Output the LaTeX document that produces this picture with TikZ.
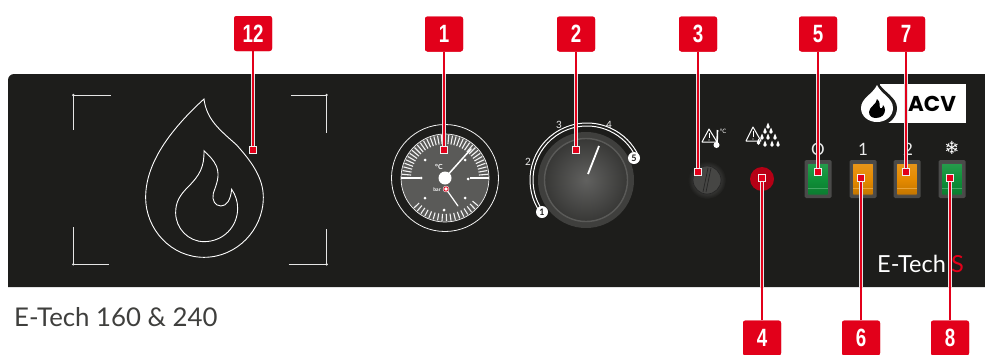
\documentclass[tikz,border=0pt]{standalone}
\usepackage{fontspec}
\setmainfont{Lato}
\newfontfamily\badgefont{Liberation Sans}[Scale=1]
\newfontfamily\symfont{DejaVu Sans}
\newfontfamily\logofont{Poppins}
\definecolor{panel}{HTML}{1D1D1B}
\definecolor{acvred}{HTML}{E2001A}
\definecolor{dial}{HTML}{5A5A58}
\definecolor{swgreen}{HTML}{0E9038}
\definecolor{sworange}{HTML}{E58A00}
\tikzset{
  x=1pt,y=-1pt,
  badge/.style={fill=acvred,rounded corners=2.5pt,minimum width=38pt,minimum height=35pt,inner sep=0,text=white,font=\badgefont\fontsize{25}{25}\selectfont\bfseries},
  marker/.style={fill=acvred,draw=white!88!gray,line width=1.2pt,minimum size=7.5pt,inner sep=0},
  halo/.style={draw=white!80!gray,line width=3.6pt},
  leader/.style={draw=acvred,line width=1.5pt},
  thinw/.style={draw=white,line width=.9pt},
  bracketl/.style={draw=white!80!gray,line width=.8pt},
  swbezel/.style={fill=white!20!panel,rounded corners=1.5pt,minimum width=27pt,minimum height=38pt,inner sep=0},
  swlab/.style={text=white!85!gray,font=\fontsize{17}{17}\selectfont},
  dial num/.style={text=white!85!gray,font=\fontsize{10}{10}\selectfont},
}
\newcommand{\rocker}[3]{%
  \node[swbezel] (#1) at (#2,179) {};
  \shade[top color=#3!90!white,bottom color=#3!85!black,middle color=#3,draw=black!70,line width=.8pt,rounded corners=.8pt] (#2-10.5,163.5) rectangle (#2+10.5,195);
  \draw[white!22!#3,line width=.7pt] (#2-10,188.5) -- (#2+10,188.5);
}
\begin{document}
\begin{tikzpicture}
\useasboundingbox (0,0) rectangle (985,354);
\fill[white] (0,0) rectangle (985,354);
\fill[panel] (8,287) [rounded corners=6pt] -- (8,74) -- (990,74) [sharp corners] -- (990,287) -- cycle;
% flame and brackets
\begin{scope}[shift={(60,80)},x=.3333pt,y=-.3333pt]
\draw[thinw] (432,57) .. controls (330,150) and (257,250) .. (257,352) .. controls (257,450) and (335,532) .. (432,532) .. controls (530,532) and (610,450) .. (610,352) .. controls (610,290) and (570,240) .. (530,195) .. controls (480,150) and (440,120) .. (432,57) -- cycle;
\draw[thinw] (432,212) .. controls (433,260) and (420,285) .. (385,320) .. controls (360,345) and (347,365) .. (347,398) .. controls (347,445) and (385,485) .. (432,485) .. controls (490,485) and (533,440) .. (533,385) .. controls (533,365) and (527,345) .. (515,328) .. controls (512,360) and (500,378) .. (483,378) .. controls (465,378) and (455,360) .. (460,340) .. controls (470,310) and (480,290) .. (470,260) .. controls (462,240) and (445,225) .. (432,212) -- cycle;
\draw[bracketl] (153,45) -- (40,45) -- (40,150);
\draw[bracketl] (693,45) -- (800,45) -- (800,158);
\draw[bracketl] (147,553) -- (40,553) -- (40,440);
\draw[bracketl] (686,553) -- (800,553) -- (800,447);
\foreach \cx/\cy in {40/45,800/45,40/553,800/553}
  \fill[white!80!gray] (\cx,\cy) circle[radius=4];
\end{scope}
% gauge
\draw[white!90!gray,line width=.8pt] (445,178) circle[radius=53.5];
\fill[dial] (445,178) circle[radius=44];
\draw[white!90!gray,line width=.7pt] (445,178) circle[radius=44];
\foreach \a in {0,5,...,180} \draw[white!90!gray,line width=1.1pt] (445,178) ++(-\a:34) -- ++(-\a:9);
\foreach \a in {40,46,...,140} \draw[white!90!gray,line width=1.1pt] (445,178) ++(\a:36) -- ++(\a:7);
\draw[white,line width=1.2pt] (401,178) -- (420,178) (470,178) -- (489,178);
\foreach \dx/\dy in {-24/0,-20/-18,20/-18,23/1,-20/20,20/20,-1/32}
  \fill[white] (445+\dx,178+\dy) circle[radius=1.5];
\node[text=white,font=\bfseries\fontsize{7}{7}\selectfont,inner sep=0] (unitc) at (439,167) {°C};
\node[text=white,font=\bfseries\fontsize{5}{5}\selectfont,inner sep=0] (unitb) at (437,190) {bar};
\draw[white,line width=1.5pt,line cap=round] (445,178) -- (471,149);
\draw[white,line width=1.2pt,line cap=round] (446,189) -- (458,206);
\fill[white] (445,178) circle[radius=6.5];
\fill[white] (446,189) circle[radius=3.2];
\draw[acvred,line width=.8pt] (446,189) circle[radius=2.2];
% knob
\fill[white!15!panel] (586,180) circle[radius=48];
\shade[inner color=white!30!panel,outer color=white!12!panel] (586,180) circle[radius=41];
\draw[white!27!panel,line width=1.4pt] (586,180) circle[radius=41.5];
\draw[white,line width=1pt] (587,180) ++(144.5:54) arc[start angle=144.5,end angle=335,radius=54];
\draw[white,line width=1pt] (587,180) ++(144.5:57) arc[start angle=144.5,end angle=335,radius=57];
\node[circle,fill=white,inner sep=0,minimum size=12pt,text=panel,font=\bfseries\fontsize{9}{9}\selectfont] (k1) at (542,212) {1};
\node[circle,fill=white,inner sep=0,minimum size=12pt,text=panel,font=\bfseries\fontsize{9}{9}\selectfont] (k5) at (634,158) {5};
\node[dial num] (k2) at (528,162) {2};
\node[dial num] (k3) at (559,125) {3};
\node[dial num] (k4) at (609,125) {4};
\draw[white,line width=1.8pt] (588,174) -- (599,146);
% selector
\shade[inner color=white!35!panel,outer color=panel] (707,180) circle[radius=19];
\fill[white!18!panel] (707,180) circle[radius=14];
\draw[black!85,line width=.7pt] (706,192) -- (711,168) (703,192) -- (708,168);
\draw[black!85,line width=.7pt] (707,180) circle[radius=14];
% LED
\fill[acvred!80!black] (762,179) circle[radius=12];
% warning icons
\draw[white,line width=1pt,line join=round] (709,129) -- (702,142) -- (717,142) -- cycle;
\draw[white,line width=1pt] (709,133) -- (709,138);
\fill[white] (709,140) circle[radius=.7];
\draw[white,line width=1.6pt] (717.5,130) -- (717,145);
\fill[white] (716.5,145) circle[radius=3];
\node[text=white,font=\fontsize{6}{6}\selectfont,inner sep=0] (degc) at (723,131) {°C};
\draw[white,line width=1pt,line join=round] (753,127) -- (746,141) -- (761,141) -- cycle;
\draw[white,line width=1pt] (753,131) -- (753,137);
\fill[white] (753,139) circle[radius=.7];
\foreach \dx/\dy in {768/127,765/132,771/132,762/138,768/138,775/138,758.5/143,765/145,772/145,778/145}
  \fill[white] (\dx,\dy) circle[radius=1.9] (\dx-1.5,\dy-.8) -- (\dx,\dy-4.5) -- (\dx+1.5,\dy-.8) -- cycle;
% switches
\rocker{s5}{818}{swgreen}
\rocker{s6}{863}{sworange}
\rocker{s7}{907}{sworange}
\rocker{s8}{952}{swgreen}
\node[swlab] (l0) at (818,149) {O};
\node[swlab] (l1) at (863,149) {1};
\node[swlab] (l2) at (908,149) {2};
\node[text=white,font=\symfont\fontsize{18}{18}\selectfont,inner sep=0] (l3) at (952,148) {❄};
% logo
\fill[white] (880,84) rectangle (966,123);
\fill[panel] (877,81) .. controls (871,92) and (857,97) .. (857,108) .. controls (857,118) and (866,126) .. (877,126) .. controls (888,126) and (897,118) .. (897,108) .. controls (897,97) and (883,92) .. (877,81) -- cycle;
\fill[white] (877,85) .. controls (873,94) and (861,98) .. (861,108) .. controls (861,116) and (868,122) .. (877,122) .. controls (886,122) and (893,116) .. (893,108) .. controls (893,98) and (881,94) .. (877,85) -- cycle;
\fill[black] (877,99) .. controls (877,104) and (869,107) .. (869,112) .. controls (869,116) and (872,118) .. (876,118) .. controls (882,118) and (885,114) .. (885,110) .. controls (885,108) and (884,106) .. (883,105) .. controls (883,108) and (881,109) .. (880,108) .. controls (879,106) and (881,102) .. (877,99) -- cycle;
\node[text=black,font=\logofont\bfseries\fontsize{21.5}{21.5}\selectfont,inner sep=0] (acv) at (932,104) {ACV};
% E-Tech labels
\node[text=white,font=\fontsize{23.5}{23.5}\selectfont,inner sep=0,anchor=west] (et) at (877,264) {E-Tech};
\node[text=acvred,font=\fontsize{23.5}{23.5}\selectfont,inner sep=0,anchor=west] (es) at (951,264) {S};
\node[text=panel!85!white,font=\fontsize{25.8}{25.8}\selectfont,inner sep=0,anchor=west] (title) at (14,317) {E-Tech 160 \& 240};
% badges
\node[badge] (b12) at (253,33.5) {};
\node[badge] (b1) at (444,34) {};
\node[badge] (b2) at (576,34) {};
\node[badge] (b3) at (698,34) {};
\node[badge] (b5) at (818,34) {};
\node[badge] (b7) at (906,34) {};
\node[badge] (b4) at (762,338) {};
\node[badge] (b6) at (861,338) {};
\node[badge] (b8) at (950,338) {};
% connector ends
\coordinate (m12) at (253,150);
\coordinate (m1) at (444,150);
\coordinate (m2) at (576,150);
\coordinate (m3) at (698,172);
\coordinate (m5) at (818,172);
\coordinate (m7) at (906,172);
\coordinate (m4) at (762,178);
\coordinate (m6) at (861,178);
\coordinate (m8) at (950,178);
% connectors
\begin{scope}
\clip (8,74) rectangle (985,287);
\foreach \n in {12,1,2,3,5,7,4,6,8} \draw[halo] (b\n) -- (m\n);
\end{scope}
\foreach \n in {12,1,2,3,5,7,4,6,8} \draw[leader] (b\n) -- (m\n);
\foreach \n in {12,1,2,3,5,7,4,6,8} \node[marker] (p\n) at (m\n) {};
\foreach \n in {12,1,2,3,5,7,4,6,8} \node[badge] at (b\n) {\scalebox{.75}[1]{\n}};
\end{tikzpicture}
\end{document}
